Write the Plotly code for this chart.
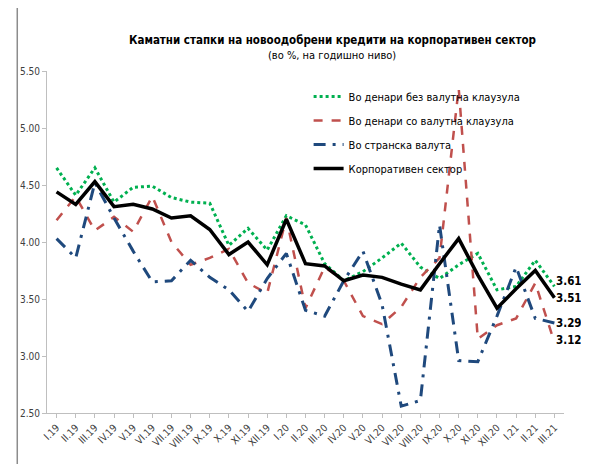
import plotly.graph_objects as go

# месеци
months = ['I.19', 'II.19', 'III.19', 'IV.19', 'V.19', 'VI.19', 'VII.19', 'VIII.19', 'IX.19',
          'X.19', 'XI.19', 'XII.19', 'I.20', 'II.20', 'III.20', 'IV.20', 'V.20', 'VI.20',
          'VII.20', 'VIII.20', 'IX.20', 'X.20', 'XI.20', 'XII.20', 'I.21', 'II.21', 'III.21']

den_bez = [4.65, 4.41, 4.65, 4.35, 4.48, 4.49, 4.39, 4.35, 4.34, 3.97, 4.12, 3.93, 4.23, 4.15,
           3.81, 3.66, 3.74, 3.86, 3.99, 3.78, 3.68, 3.80, 3.90, 3.58, 3.61, 3.84, 3.61]
den_so = [4.19, 4.40, 4.10, 4.22, 4.09, 4.40, 4.00, 3.80, 3.86, 3.94, 3.64, 3.55, 4.21, 3.42,
          3.78, 3.66, 3.35, 3.28, 3.43, 3.69, 3.86, 5.35, 3.15, 3.27, 3.33, 3.64, 3.12]
stranska = [4.03, 3.86, 4.52, 4.21, 3.92, 3.65, 3.66, 3.84, 3.69, 3.58, 3.39, 3.68, 3.90, 3.40,
            3.35, 3.66, 3.92, 3.45, 2.56, 2.61, 4.15, 2.96, 2.95, 3.35, 3.78, 3.33, 3.29]
korporativen = [4.44, 4.33, 4.53, 4.31, 4.33, 4.29, 4.21, 4.23, 4.11, 3.89, 4.00, 3.80, 4.20, 3.81,
                3.79, 3.66, 3.71, 3.69, 3.63, 3.58, 3.81, 4.03, 3.71, 3.42, 3.59, 3.75, 3.51]

y_ticks = [2.5, 3.0, 3.5, 4.0, 4.5, 5.0, 5.5]

FONT = 'DejaVu Sans Condensed, Liberation Sans Narrow, Liberation Sans, sans-serif'

fig = go.Figure()
fig.add_trace(go.Scatter(x=months, y=den_bez, mode='lines', name='Во денари без валутна клаузула',
                         legendgroup='a', line=dict(color='#00B050', width=3, dash='dot')))
fig.add_trace(go.Scatter(x=months, y=den_so, mode='lines', name='Во денари со валутна клаузула',
                         legendgroup='b', line=dict(color='#C0504D', width=2.5, dash='dash')))
fig.add_trace(go.Scatter(x=months, y=stranska, mode='lines', name='Во странска валута',
                         legendgroup='c', line=dict(color='#1F497D', width=3, dash='12px,7px,3px,7px')))
fig.add_trace(go.Scatter(x=months, y=korporativen, mode='lines', name='Корпоративен сектор',
                         legendgroup='d', line=dict(color='black', width=3.5)))

# вредности на крајот
end_vals = [(den_bez[-1], 5), (korporativen[-1], 0), (stranska[-1], 0), (den_so[-1], 2)]
for v, dy in end_vals:
    fig.add_annotation(x=months[-1], y=v, text='<b>%.2f</b>' % v, showarrow=False,
                       xanchor='left', yanchor='middle', xshift=1, yshift=dy, borderpad=0,
                       font=dict(family=FONT, size=11.5, color='black'))

fig.add_annotation(x=0.552, y=1.091, xref='paper', yref='paper', showarrow=False,
                   xanchor='center', yanchor='middle',
                   text='<b>Каматни стапки на новоодобрени кредити на корпоративен сектор</b>',
                   font=dict(family=FONT, size=11.5, color='black'))
fig.add_annotation(x=0.552, y=1.044, xref='paper', yref='paper', showarrow=False,
                   xanchor='center', yanchor='middle',
                   text='(во %, на годишно ниво)',
                   font=dict(family=FONT, size=11, color='black'))

# рамка околу графиконот
fig.add_shape(type='rect', xref='paper', yref='paper', x0=-0.0575, x1=1.1, y0=-0.2, y1=1.193,
              line=dict(color='#8c8c8c', width=1.5))

# страницата има 8px маргина, затоа фигурата е помала
fig.update_layout(
    width=581, height=456,
    margin=dict(l=34, r=25, t=63, b=51),
    paper_bgcolor='white', plot_bgcolor='white',
    font=dict(family=FONT, size=10, color='#404040'),
    showlegend=True,
    legend=dict(x=0.506, y=0.968, xanchor='left', yanchor='top', bgcolor='rgba(0,0,0,0)',
                font=dict(family=FONT, size=11, color='black'), tracegroupgap=5),
    xaxis=dict(type='category', range=[-0.5, 26.5], tickangle=-45, showgrid=False,
               showline=True, linecolor='#bfbfbf', ticks='outside', ticklen=4,
               tickcolor='#bfbfbf', tickfont=dict(size=10, color='#404040')),
    yaxis=dict(range=[2.5, 5.5], tickvals=y_ticks, tickformat='.2f', showgrid=False,
               showline=True, linecolor='#bfbfbf', ticks='outside', ticklen=4,
               tickcolor='#bfbfbf', zeroline=False, tickfont=dict(size=10, color='#404040')),
)

fig.write_html('out.html')
